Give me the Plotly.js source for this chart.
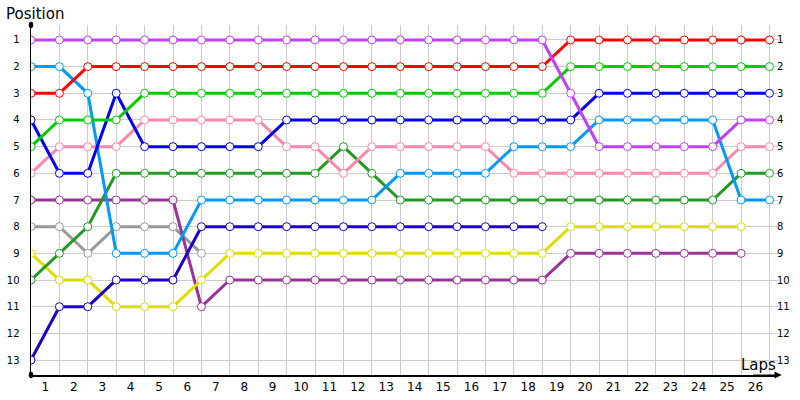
<!DOCTYPE html>
<html>
<head>
<meta charset="utf-8">
<script src="https://cdn.plot.ly/plotly-3.0.1.min.js"></script>
<style>
  html, body { margin: 0; padding: 0; background: #fff; }
  #chart { width: 800px; height: 400px; }
</style>
</head>
<body>
<div id="chart"></div>
<script>
// lap index 0 = start grid
var laps = [0,1,2,3,4,5,6,7,8,9,10,11,12,13,14,15,16,17,18,19,20,21,22,23,24,25,26];
var lapLabels = ['1','2','3','4','5','6','7','8','9','10','11','12','13','14','15','16','17','18','19','20','21','22','23','24','25','26'];
var positions = [1,2,3,4,5,6,7,8,9,10,11,12,13];

var violet    = [1,1,1,1,1,1,1,1,1,1,1,1,1,1,1,1,1,1,1,3,5,5,5,5,5,4,4];
var red       = [3,3,2,2,2,2,2,2,2,2,2,2,2,2,2,2,2,2,2,1,1,1,1,1,1,1,1];
var green     = [5,4,4,4,3,3,3,3,3,3,3,3,3,3,3,3,3,3,3,2,2,2,2,2,2,2,2];
var blue      = [4,6,6,3,5,5,5,5,5,4,4,4,4,4,4,4,4,4,4,4,3,3,3,3,3,3,3];
var lightBlue = [2,2,3,9,9,9,7,7,7,7,7,7,7,6,6,6,6,5,5,5,4,4,4,4,4,7,7];
var pink      = [6,5,5,5,4,4,4,4,4,5,5,6,5,5,5,5,5,6,6,6,6,6,6,6,6,5,5];
var darkGreen = [10,9,8,6,6,6,6,6,6,6,6,5,6,7,7,7,7,7,7,7,7,7,7,7,7,6,6];
var plum      = [7,7,7,7,7,7,11,10,10,10,10,10,10,10,10,10,10,10,10,9,9,9,9,9,9,9];
var gray      = [8,8,9,8,8,8,9];
var yellow    = [9,10,10,11,11,11,10,9,9,9,9,9,9,9,9,9,9,9,9,8,8,8,8,8,8,8];
var navy      = [13,11,11,10,10,10,8,8,8,8,8,8,8,8,8,8,8,8,8];

var series = [
  {y: gray, color: '#999999'},
  {y: plum, color: '#993399'},
  {y: yellow, color: '#dddd00'},
  {y: navy, color: '#1a00c8'},
  {y: darkGreen, color: '#229922'},
  {y: pink, color: '#ff88aa'},
  {y: lightBlue, color: '#0099ff'},
  {y: blue, color: '#0000ee'},
  {y: green, color: '#00cc00'},
  {y: red, color: '#ff0000'},
  {y: violet, color: '#c040f8'}
];

var data = series.map(function (s) {
  return {
    x: laps.slice(0, s.y.length),
    y: s.y,
    mode: 'lines+markers',
    type: 'scatter',
    line: {color: s.color, width: 3},
    marker: {symbol: 'circle', size: 8, color: '#ffffff', line: {color: s.color, width: 1}},
    hoverinfo: 'x+y',
    showlegend: false
  };
});

// position labels repeated on the right edge
var rightLabels = positions.map(function (p) {
  return {xref: 'paper', yref: 'y', x: 1, y: p, xanchor: 'left', yanchor: 'middle',
          xshift: -3, text: String(p), showarrow: false, font: {size: 10, color: '#000'}};
});

var layout = {
  width: 800,
  height: 400,
  paper_bgcolor: '#ffffff',
  plot_bgcolor: '#ffffff',
  margin: {l: 31, r: 22, t: 25, b: 25, pad: 0},
  font: {family: 'DejaVu Sans, sans-serif', color: '#000'},
  xaxis: {
    range: [0, 26.3],
    tickvals: laps.slice(1),
    ticktext: lapLabels,
    ticklabelshift: -14,
    ticks: '',
    showgrid: true,
    gridcolor: '#cccccc',
    gridwidth: 1,
    zeroline: false,
    showline: true,
    linecolor: '#000',
    linewidth: 1.5,
    tickfont: {size: 12, color: '#000'},
    fixedrange: true
  },
  yaxis: {
    range: [13.56, 0.44],
    tickvals: positions,
    ticks: '',
    showgrid: true,
    gridcolor: '#cccccc',
    gridwidth: 1,
    zeroline: false,
    showline: true,
    linecolor: '#000',
    linewidth: 1.5,
    ticklabelstandoff: 8,
    tickfont: {size: 10, color: '#000'},
    fixedrange: true
  },
  shapes: [
    {type: 'circle', xref: 'paper', yref: 'paper', x0: -0.003, x1: 0.003, y0: 0.991, y1: 1.009,
     fillcolor: '#000', line: {width: 0}},
    {type: 'circle', xref: 'paper', yref: 'paper', x0: -0.003, x1: 0.003, y0: -0.009, y1: 0.009,
     fillcolor: '#000', line: {width: 0}}
  ],
  annotations: [
    {xref: 'paper', yref: 'paper', x: 1.005, y: 0, ax: -30, ay: 0, text: '',
     showarrow: true, arrowhead: 2, arrowsize: 1.2, arrowwidth: 1.2, arrowcolor: '#000'},
    {xref: 'paper', yref: 'paper', x: 1.0, y: 0, yshift: -1, xanchor: 'right', yanchor: 'bottom',
     text: 'Laps', showarrow: false, font: {size: 15, color: '#000'}},
    {xref: 'paper', yref: 'paper', x: 0, xshift: -27, y: 1, yshift: 22, xanchor: 'left', yanchor: 'top',
     text: 'Position', showarrow: false, font: {size: 15, color: '#000'}}
  ].concat(rightLabels)
};

var config = {displayModeBar: false, staticPlot: true};

Plotly.newPlot('chart', data, layout, config);
</script>
</body>
</html>
